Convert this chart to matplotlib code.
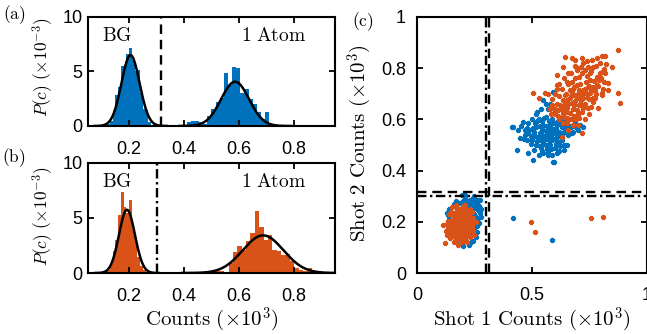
import numpy as np
import matplotlib.pyplot as plt

plt.rcParams['font.family'] = ['Liberation Sans', 'DejaVu Sans']
plt.rcParams['mathtext.fontset'] = 'cm'

blue = '#0072BD'
orange = '#D95319'

# ---- histogram data, counts in units of 1e3, P(c) in units of 1e-3
a_bg_centers = [0.125, 0.135, 0.145, 0.155, 0.165, 0.175, 0.185, 0.195, 0.205,
                0.215, 0.225, 0.235, 0.245, 0.255, 0.265, 0.275, 0.285]
a_bg_heights = [0.2, 0.5, 1.4, 2.8, 3.6, 5.5, 5.6, 6.6, 7.2,
                6.1, 5.0, 5.1, 3.0, 1.6, 1.5, 0.4, 0.1]
a_at_centers = [0.4175, 0.4325, 0.4475, 0.4625, 0.4775, 0.4925, 0.5075, 0.5225,
                0.5375, 0.5525, 0.5675, 0.5825, 0.5975, 0.6125, 0.6275, 0.6425,
                0.6575, 0.6725, 0.6875, 0.7025]
a_at_heights = [0.4, 0.5, 0.5, 0.4, 0.2, 0.9, 1.6, 2.2,
                2.6, 4.9, 3.8, 5.4, 5.3, 3.0, 3.4, 2.5,
                2.0, 1.3, 0.6, 1.3]

b_bg_centers = [0.115, 0.125, 0.135, 0.145, 0.155, 0.165, 0.175, 0.185,
                0.195, 0.205, 0.215, 0.225, 0.235, 0.245, 0.255]
b_bg_heights = [0.1, 0.3, 0.8, 2.0, 3.0, 5.3, 7.4, 6.0,
                5.5, 6.6, 4.0, 3.0, 1.5, 0.6, 0.3]
b_at_centers = [0.490, 0.506, 0.522, 0.538, 0.554, 0.570, 0.586, 0.602, 0.618,
                0.634, 0.650, 0.666, 0.682, 0.698, 0.714, 0.730, 0.746, 0.762,
                0.778, 0.794, 0.810, 0.826, 0.842, 0.858, 0.874]
b_at_heights = [0.2, 0.2, 0.2, 0.2, 0.1, 0.9, 1.9, 2.5, 2.1,
                2.9, 3.6, 5.6, 4.2, 3.0, 3.5, 2.1, 2.0, 1.6,
                1.7, 1.1, 0.5, 0.3, 0.2, 0.45, 0.2]

# gaussian fits: (amplitude, mean, sigma)
a_fits = [(6.5, 0.205, 0.033), (4.06, 0.586, 0.051)]
b_fits = [(5.75, 0.192, 0.029), (3.42, 0.688, 0.074)]

thr_a = 0.315
thr_b = 0.30

# ---- scatter (c): (shot 1, shot 2) counts
blue_pts = [
    # background cluster
    (0.195, 0.305), (0.209, 0.305), (0.231, 0.285), (0.26, 0.285), (0.245, 0.253),
    (0.275, 0.233), (0.27, 0.194), (0.235, 0.122), (0.202, 0.105), (0.18, 0.129),
    (0.187, 0.272), (0.129, 0.233), (0.275, 0.285), (0.25, 0.30), (0.265, 0.215),
    (0.26, 0.16), (0.255, 0.14), (0.28, 0.25), (0.22, 0.27), (0.24, 0.29),
    (0.14, 0.21), (0.15, 0.17), (0.17, 0.28), (0.25, 0.175), (0.27, 0.26),
    (0.20, 0.20), (0.21, 0.22), (0.19, 0.18), (0.22, 0.19), (0.18, 0.21),
    (0.23, 0.23), (0.21, 0.17), (0.24, 0.21), (0.17, 0.19), (0.20, 0.24),
    (0.22, 0.25), (0.19, 0.15), (0.23, 0.16), (0.16, 0.22), (0.25, 0.23),
    (0.21, 0.14), (0.18, 0.25), (0.24, 0.19), (0.22, 0.21), (0.20, 0.16),
    (0.26, 0.27), (0.25, 0.27), (0.27, 0.245), (0.255, 0.255), (0.245, 0.275),
    (0.23, 0.28), (0.215, 0.285), (0.20, 0.28), (0.255, 0.22), (0.265, 0.20),
    (0.26, 0.185), (0.245, 0.125), (0.225, 0.11), (0.265, 0.245), (0.28, 0.22),
    (0.21, 0.295), (0.235, 0.265), (0.135, 0.225), (0.14, 0.25), (0.16, 0.27),
    # outliers
    (0.417, 0.214), (0.587, 0.129),
    # one-atom cluster
    (0.42, 0.571), (0.442, 0.558), (0.435, 0.48), (0.449, 0.529), (0.478, 0.565),
    (0.485, 0.468), (0.507, 0.441), (0.572, 0.461), (0.594, 0.435), (0.522, 0.63),
    (0.551, 0.676), (0.594, 0.708), (0.725, 0.571), (0.653, 0.5), (0.413, 0.571),
    (0.485, 0.585), (0.597, 0.432), (0.46, 0.59), (0.47, 0.54),
    (0.50, 0.52), (0.51, 0.55), (0.52, 0.50), (0.52, 0.57), (0.53, 0.53),
    (0.53, 0.60), (0.54, 0.49), (0.54, 0.55), (0.55, 0.52), (0.55, 0.58),
    (0.56, 0.50), (0.56, 0.54), (0.56, 0.61), (0.57, 0.47), (0.57, 0.56),
    (0.57, 0.53), (0.58, 0.50), (0.58, 0.58), (0.58, 0.55), (0.59, 0.52),
    (0.59, 0.60), (0.60, 0.49), (0.60, 0.56), (0.61, 0.53), (0.61, 0.58),
    (0.62, 0.51), (0.62, 0.55), (0.63, 0.57), (0.63, 0.52), (0.64, 0.55),
    (0.65, 0.58), (0.66, 0.54), (0.67, 0.57), (0.68, 0.55), (0.69, 0.59),
    (0.70, 0.56), (0.51, 0.48), (0.53, 0.46), (0.55, 0.47), (0.59, 0.46),
    (0.61, 0.47), (0.49, 0.56), (0.50, 0.60), (0.52, 0.62), (0.54, 0.64),
    (0.57, 0.64), (0.60, 0.63), (0.62, 0.61), (0.64, 0.60), (0.55, 0.56),
    (0.545, 0.515), (0.565, 0.575), (0.575, 0.505), (0.585, 0.535), (0.605, 0.545),
    (0.615, 0.505), (0.625, 0.585), (0.535, 0.575), (0.515, 0.535), (0.495, 0.505),
    (0.48, 0.52), (0.47, 0.56), (0.64, 0.50), (0.66, 0.60), (0.58, 0.66),
    (0.56, 0.66),
    (0.535, 0.545), (0.545, 0.565), (0.555, 0.535), (0.565, 0.555), (0.575, 0.545),
    (0.585, 0.565), (0.595, 0.545), (0.605, 0.565), (0.555, 0.505), (0.565, 0.525),
    (0.575, 0.525), (0.595, 0.525), (0.605, 0.525), (0.615, 0.545), (0.625, 0.535),
    (0.635, 0.545), (0.645, 0.565), (0.655, 0.555), (0.665, 0.575), (0.545, 0.595),
    (0.555, 0.605), (0.575, 0.595), (0.595, 0.585), (0.615, 0.595), (0.635, 0.605),
    (0.525, 0.515), (0.535, 0.495), (0.545, 0.475), (0.565, 0.485), (0.585, 0.485),
    (0.605, 0.505), (0.625, 0.495), (0.505, 0.565), (0.515, 0.585), (0.525, 0.595),
    (0.495, 0.535), (0.485, 0.545), (0.465, 0.525), (0.455, 0.575), (0.675, 0.545),
    (0.685, 0.575), (0.71, 0.58), (0.695, 0.565), (0.62, 0.475), (0.64, 0.48),
]

orange_pts = [
    # background cluster
    (0.151, 0.259), (0.115, 0.1875), (0.122, 0.116), (0.13, 0.15), (0.14, 0.23),
    (0.16, 0.12), (0.18, 0.11), (0.22, 0.12), (0.25, 0.15), (0.255, 0.20),
    (0.24, 0.24), (0.21, 0.265), (0.17, 0.265), (0.135, 0.205), (0.145, 0.135),
    (0.19, 0.19), (0.18, 0.20), (0.20, 0.18), (0.17, 0.18), (0.21, 0.21),
    (0.19, 0.22), (0.16, 0.19), (0.22, 0.19), (0.18, 0.16), (0.20, 0.15),
    (0.23, 0.20), (0.17, 0.22), (0.21, 0.24), (0.15, 0.17), (0.23, 0.17),
    (0.19, 0.25), (0.16, 0.15), (0.22, 0.22), (0.18, 0.23), (0.24, 0.18),
    (0.20, 0.21), (0.175, 0.145), (0.195, 0.135), (0.215, 0.155), (0.155, 0.21),
    (0.185, 0.175), (0.205, 0.195), (0.165, 0.235), (0.225, 0.235), (0.235, 0.215),
    (0.145, 0.19), (0.19, 0.12), (0.21, 0.13), (0.17, 0.13), (0.245, 0.165),
    (0.15, 0.24), (0.23, 0.25), (0.20, 0.26), (0.165, 0.205), (0.215, 0.18),
    (0.195, 0.235), (0.175, 0.245), (0.225, 0.205), (0.16, 0.165), (0.205, 0.165),
    (0.185, 0.195), (0.195, 0.205), (0.175, 0.205), (0.205, 0.215), (0.185, 0.215),
    (0.175, 0.225), (0.195, 0.225), (0.215, 0.225), (0.205, 0.235), (0.185, 0.235),
    (0.165, 0.215), (0.155, 0.195), (0.165, 0.185), (0.175, 0.175), (0.195, 0.175),
    (0.215, 0.195), (0.225, 0.185), (0.235, 0.195), (0.235, 0.175), (0.225, 0.165),
    (0.205, 0.145), (0.185, 0.155), (0.165, 0.155), (0.155, 0.175), (0.145, 0.205),
    (0.155, 0.225), (0.175, 0.195), (0.195, 0.195), (0.205, 0.205), (0.185, 0.185),
    (0.215, 0.245), (0.195, 0.245), (0.175, 0.255), (0.225, 0.145), (0.245, 0.195),
    (0.245, 0.215), (0.14, 0.16), (0.15, 0.15), (0.185, 0.135), (0.20, 0.125),
    (0.165, 0.14), (0.23, 0.14), (0.135, 0.175), (0.13, 0.19), (0.125, 0.165),
    # outliers
    (0.497, 0.2), (0.513, 0.161), (0.759, 0.214), (0.809, 0.22),
    # one-atom cluster
    (0.877, 0.871), (0.645, 0.845), (0.674, 0.838), (0.689, 0.832), (0.722, 0.819),
    (0.761, 0.832), (0.783, 0.838), (0.805, 0.848), (0.82, 0.848), (0.798, 0.819),
    (0.849, 0.806), (0.638, 0.806), (0.609, 0.773), (0.66, 0.78), (0.696, 0.793),
    (0.732, 0.793), (0.754, 0.78), (0.798, 0.78), (0.834, 0.741), (0.877, 0.702),
    (0.885, 0.663), (0.834, 0.715), (0.805, 0.695), (0.79, 0.643), (0.768, 0.669),
    (0.507, 0.702), (0.533, 0.682), (0.558, 0.702), (0.609, 0.734), (0.718, 0.546),
    (0.631, 0.532),
    (0.60, 0.62), (0.61, 0.66), (0.62, 0.60), (0.62, 0.69), (0.63, 0.64),
    (0.63, 0.72), (0.64, 0.61), (0.64, 0.67), (0.65, 0.70), (0.65, 0.63),
    (0.66, 0.66), (0.66, 0.74), (0.67, 0.60), (0.67, 0.69), (0.68, 0.64),
    (0.68, 0.72), (0.69, 0.67), (0.69, 0.76), (0.70, 0.62), (0.70, 0.70),
    (0.71, 0.66), (0.71, 0.74), (0.72, 0.69), (0.72, 0.63), (0.73, 0.72),
    (0.73, 0.66), (0.74, 0.70), (0.74, 0.77), (0.75, 0.68), (0.75, 0.73),
    (0.76, 0.71), (0.76, 0.65), (0.77, 0.75), (0.78, 0.70), (0.79, 0.73),
    (0.80, 0.76), (0.81, 0.72), (0.82, 0.78), (0.70, 0.58), (0.68, 0.58),
    (0.66, 0.56), (0.73, 0.60), (0.75, 0.62), (0.59, 0.68), (0.58, 0.64),
    (0.57, 0.70), (0.61, 0.72), (0.64, 0.76), (0.67, 0.78), (0.70, 0.80),
    (0.72, 0.78), (0.76, 0.79), (0.78, 0.81), (0.665, 0.625), (0.685, 0.695),
    (0.705, 0.655), (0.725, 0.715), (0.745, 0.645), (0.695, 0.735), (0.655, 0.675),
    (0.635, 0.585), (0.615, 0.635), (0.655, 0.745), (0.785, 0.765), (0.815, 0.745),
    (0.765, 0.685), (0.805, 0.705), (0.72, 0.84), (0.69, 0.81), (0.74, 0.83),
    (0.645, 0.655), (0.655, 0.645), (0.665, 0.685), (0.675, 0.665), (0.675, 0.705),
    (0.685, 0.655), (0.685, 0.725), (0.695, 0.685), (0.705, 0.715), (0.705, 0.685),
    (0.715, 0.705), (0.715, 0.675), (0.725, 0.685), (0.735, 0.705), (0.735, 0.745),
    (0.745, 0.725), (0.745, 0.685), (0.755, 0.705), (0.755, 0.755), (0.765, 0.725),
    (0.775, 0.715), (0.775, 0.685), (0.785, 0.735), (0.795, 0.755), (0.805, 0.785),
    (0.815, 0.795), (0.825, 0.815), (0.765, 0.805), (0.745, 0.805), (0.715, 0.805),
    (0.705, 0.765), (0.675, 0.745), (0.665, 0.715), (0.645, 0.695), (0.635, 0.675),
    (0.625, 0.655), (0.615, 0.615), (0.635, 0.625), (0.655, 0.605), (0.685, 0.615),
    (0.705, 0.605), (0.725, 0.645), (0.695, 0.635), (0.655, 0.585), (0.69, 0.60),
    (0.60, 0.70), (0.59, 0.655), (0.60, 0.64), (0.585, 0.62), (0.62, 0.74),
]

W, H = 647, 334
fig = plt.figure(figsize=(W / 100, H / 100), dpi=100)


def px_axes(left, top, right, bottom):
    return fig.add_axes([left / W, 1 - bottom / H, (right - left) / W, (bottom - top) / H])


def style(ax, xpad, ypad):
    ax.tick_params(direction='in', top=True, right=True, length=4, width=1.3,
                   labelsize=13)
    ax.tick_params(axis='x', pad=xpad)
    ax.tick_params(axis='y', pad=ypad)
    for s in ax.spines.values():
        s.set_linewidth(1.5)


def hist_panel(ax, bg_c, bg_h, at_c, at_h, fits, color, thr, ls):
    ax.bar(bg_c, bg_h, width=0.01, color=color, linewidth=0)
    ax.bar(at_c, at_h, width=at_c[1] - at_c[0], color=color, linewidth=0)
    for amp, mu, sig in fits:
        xx = np.linspace(mu - 4 * sig, mu + 4 * sig, 200)
        ax.plot(xx, amp * np.exp(-(xx - mu) ** 2 / (2 * sig ** 2)), color='k', lw=1.8)
    ax.axvline(thr, color='k', lw=1.7, ls=ls)
    ax.set_xlim(0.05, 0.95)
    ax.set_ylim(0, 10)
    ax.set_xticks([0.2, 0.4, 0.6, 0.8])
    ax.set_xticklabels(['0.2', '0.4', '0.6', '0.8'])
    ax.set_yticks([0, 5, 10])
    ax.text(0.155, 8.3, r'$\mathrm{BG}$', fontsize=14, ha='center', va='center')
    ax.text(0.727, 8.3, r'$\mathrm{1\ Atom}$', fontsize=14, ha='center', va='center')
    style(ax, 10.5, 4)


dash = (0, (4, 2.5))
dashdot = (0, (4, 1.5, 1, 1.5))

ax_a = px_axes(88, 17, 335, 126)
hist_panel(ax_a, a_bg_centers, a_bg_heights, a_at_centers, a_at_heights,
           a_fits, blue, thr_a, dash)

ax_b = px_axes(88, 163, 335, 273)
hist_panel(ax_b, b_bg_centers, b_bg_heights, b_at_centers, b_at_heights,
           b_fits, orange, thr_b, dashdot)

ax_c = px_axes(417, 17, 646.5, 273)
bx, by = zip(*blue_pts)
ox, oy = zip(*orange_pts)
ax_c.scatter(bx, by, s=11, marker='P', color=blue, edgecolors=blue, linewidths=0.9)
ax_c.scatter(ox, oy, s=11, marker='P', color=orange, edgecolors=orange, linewidths=0.9)
ax_c.axvline(thr_a, color='k', lw=1.7, ls=dash)
ax_c.axvline(thr_b, color='k', lw=1.7, ls=dashdot)
ax_c.axhline(thr_a, color='k', lw=1.7, ls=dash)
ax_c.axhline(thr_b, color='k', lw=1.7, ls=dashdot)
ax_c.set_xlim(0, 1)
ax_c.set_ylim(0, 1)
ax_c.set_xticks([0, 0.5, 1])
ax_c.set_xticklabels(['0', '0.5', '1'])
ax_c.set_yticks([0, 0.2, 0.4, 0.6, 0.8, 1])
ax_c.set_yticklabels(['0', '0.2', '0.4', '0.6', '0.8', '1'])
style(ax_c, 10, 8)


def ftext(x, y, s, **kw):
    fig.text(x / W, 1 - y / H, s, ha='center', va='center', **kw)


ftext(43, 67, r'$P(c)\ (\times 10^{-3})$', fontsize=12.5, rotation=90)
ftext(43, 216, r'$P(c)\ (\times 10^{-3})$', fontsize=12.5, rotation=90)
ftext(211.5, 320, r'$\mathrm{Counts}\ (\times 10^3)$', fontsize=15)
ftext(532, 320, r'$\mathrm{Shot\ 1\ Counts}\ (\times 10^3)$', fontsize=15)
ftext(360, 143, r'$\mathrm{Shot\ 2\ Counts}\ (\times 10^3)$', fontsize=15, rotation=90)
ftext(14, 15, r'$\mathrm{(a)}$', fontsize=12.5)
ftext(14, 158, r'$\mathrm{(b)}$', fontsize=12.5)
ftext(363, 22, r'$\mathrm{(c)}$', fontsize=12.5)

fig.savefig('out.png', dpi=100)
